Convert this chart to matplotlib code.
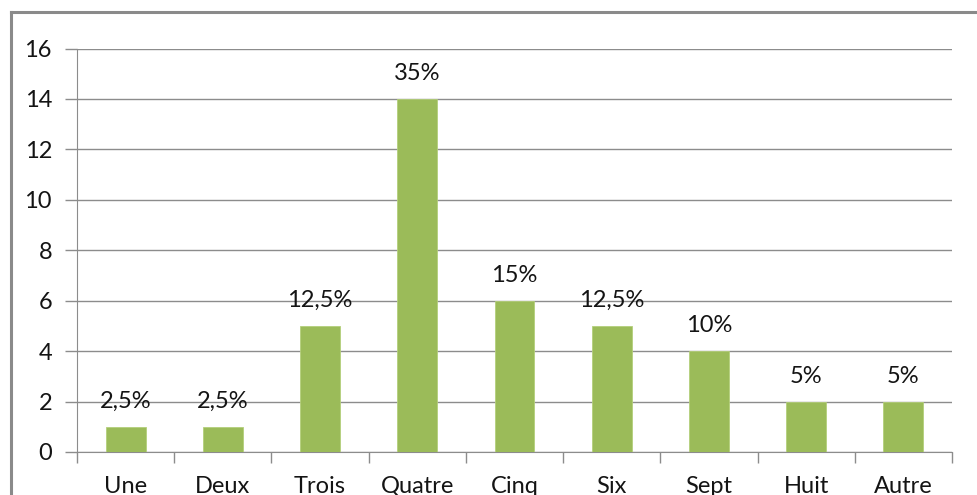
import matplotlib
matplotlib.use("Agg")
import matplotlib.pyplot as plt
from matplotlib.lines import Line2D

categories = ["Une", "Deux", "Trois", "Quatre", "Cinq", "Six", "Sept", "Huit", "Autre"]
values = [1, 1, 5, 14, 6, 5, 4, 2, 2]
pct_labels = ["2,5%", "2,5%", "12,5%", "35%", "15%", "12,5%", "10%", "5%", "5%"]
yticks = [0, 2, 4, 6, 8, 10, 12, 14, 16]

plt.rcParams['font.family'] = ['Lato', 'DejaVu Sans']
W, H = 977, 495
FS = 17
fig = plt.figure(figsize=(W / 100, H / 100), dpi=100)
ax = fig.add_axes([77 / W, 1 - 452 / H, (952 - 77) / W, (452 - 48.5) / H])

x = list(range(len(categories)))
ax.bar(x, values, width=0.41, color="#9BBB59", edgecolor="#B4CF7A", linewidth=0.6, zorder=3)
for xi, v, lab in zip(x, values, pct_labels):
    ax.annotate(lab, (xi, v), xytext=(0, 13.5), textcoords="offset points",
                ha="center", va="baseline", fontsize=FS, color="#141414")

ax.set_xlim(-0.5, len(categories) - 0.5)
ax.set_ylim(0, 16)
ax.set_yticks(yticks)
ax.set_yticklabels([str(t) for t in yticks], fontsize=FS, color="#141414")
ax.set_xticks(x)
ax.set_xticklabels(categories, fontsize=FS, color="#141414")
for t in ax.get_xticklabels():
    t.set_verticalalignment("baseline")
ax.set_xticks([i - 0.5 for i in range(len(categories) + 1)], minor=True)
ax.tick_params(axis="x", which="major", length=0, pad=29.5)
ax.tick_params(axis="x", which="minor", length=8, color="#8c8c8c", width=1)
ax.tick_params(axis="y", length=9, color="#8c8c8c", width=1, pad=9)
ax.yaxis.grid(True, color="#8c8c8c", linewidth=1, zorder=0)
for s in ["top", "right"]:
    ax.spines[s].set_visible(False)
ax.spines["left"].set_color("#8c8c8c")
ax.spines["bottom"].set_color("#8c8c8c")

fx = 10.5 / W
fy = 1 - 12 / H
fig.add_artist(Line2D([fx, 1.0], [fy, fy], transform=fig.transFigure, color="#8a8a8a", linewidth=2.2))
fig.add_artist(Line2D([fx, fx], [0.0, fy], transform=fig.transFigure, color="#8a8a8a", linewidth=2.2))
fig.savefig("out.png", dpi=100)
